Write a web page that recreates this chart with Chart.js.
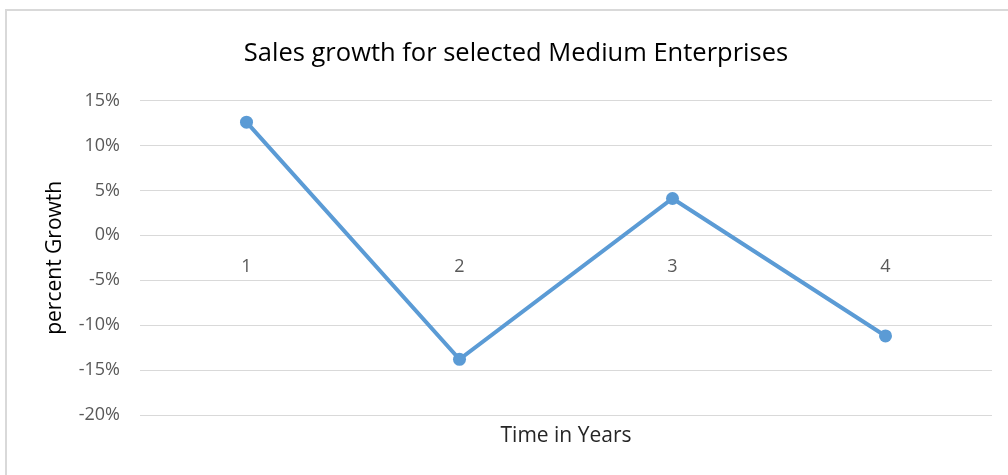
<!DOCTYPE html>
<html>
<head>
<meta charset="utf-8">
<script src="https://cdn.jsdelivr.net/npm/chart.js@4.4.1/dist/chart.umd.min.js"></script>
<style>
  html, body { margin: 0; padding: 0; background: #fff; overflow: hidden; }
  #frame {
    position: absolute; left: 5px; top: 9px; width: 1100px; height: 600px;
    border-left: 2px solid #d9d9d9; border-top: 2px solid #d9d9d9;
  }
  #wrap { position: absolute; left: 0; top: 0; width: 1008px; height: 475px; }
</style>
</head>
<body>
<div id="frame"></div>
<div id="wrap"><canvas id="chart" width="1008" height="475"></canvas></div>
<script>
// Year index on the category axis
const years = ['1', '2', '3', '4'];
// Sales growth per year, in percent
const growth = [12.6, -13.8, 4.1, -11.2];
// Value axis range and step, in percent
const yMin = -20;
const yMax = 15;
const yStep = 5;

const FONT = "'Open Sans', 'Liberation Sans', sans-serif";

new Chart(document.getElementById('chart'), {
  type: 'line',
  data: {
    labels: years,
    datasets: [{
      label: 'Sales growth',
      data: growth,
      borderColor: '#5b9bd5',
      backgroundColor: '#5b9bd5',
      borderWidth: 4,
      pointRadius: 6.5,
      pointBorderWidth: 0,
      pointBackgroundColor: '#5b9bd5',
      tension: 0,
      fill: false,
      xAxisID: 'x',
      yAxisID: 'y'
    }]
  },
  options: {
    responsive: false,
    animation: false,
    layout: { padding: { top: 10, right: 16, bottom: 26, left: 40 } },
    plugins: {
      legend: { display: false },
      tooltip: { enabled: false },
      title: {
        display: true,
        text: 'Sales growth for selected Medium Enterprises',
        color: '#000000',
        font: { family: FONT, size: 25.5, weight: 'normal' },
        padding: { top: 28, bottom: 32 }
      }
    },
    scales: {
      y: {
        min: yMin,
        max: yMax,
        ticks: {
          stepSize: yStep,
          color: '#595959',
          font: { family: FONT, size: 18 },
          padding: 20,
          callback: v => v + '%'
        },
        grid: { color: '#d9d9d9', lineWidth: 1, drawTicks: false },
        border: { display: false },
        title: {
          display: true,
          text: 'percent Growth',
          color: '#000000',
          font: { family: FONT, size: 21 },
          padding: { top: 2, bottom: 0 }
        },
        afterFit: s => { s.width = 100; }
      },
      x: {
        type: 'category',
        position: { y: 0 },
        offset: true,
        grid: { display: false, drawTicks: false },
        border: { display: false },
        ticks: { color: '#595959', font: { family: FONT, size: 18 }, padding: 21, maxRotation: 0 },
        afterFit: s => { s.height = 0; }
      },
      x2: {
        type: 'category',
        position: 'bottom',
        labels: years,
        offset: true,
        grid: { display: false, drawTicks: false },
        border: { display: false },
        ticks: { display: false },
        title: {
          display: true,
          text: 'Time in Years',
          color: '#262626',
          font: { family: FONT, size: 21 },
          padding: { top: 0, bottom: 0 }
        },
        afterFit: s => { s.height = 34; }
      }
    }
  }
});
</script>
</body>
</html>
